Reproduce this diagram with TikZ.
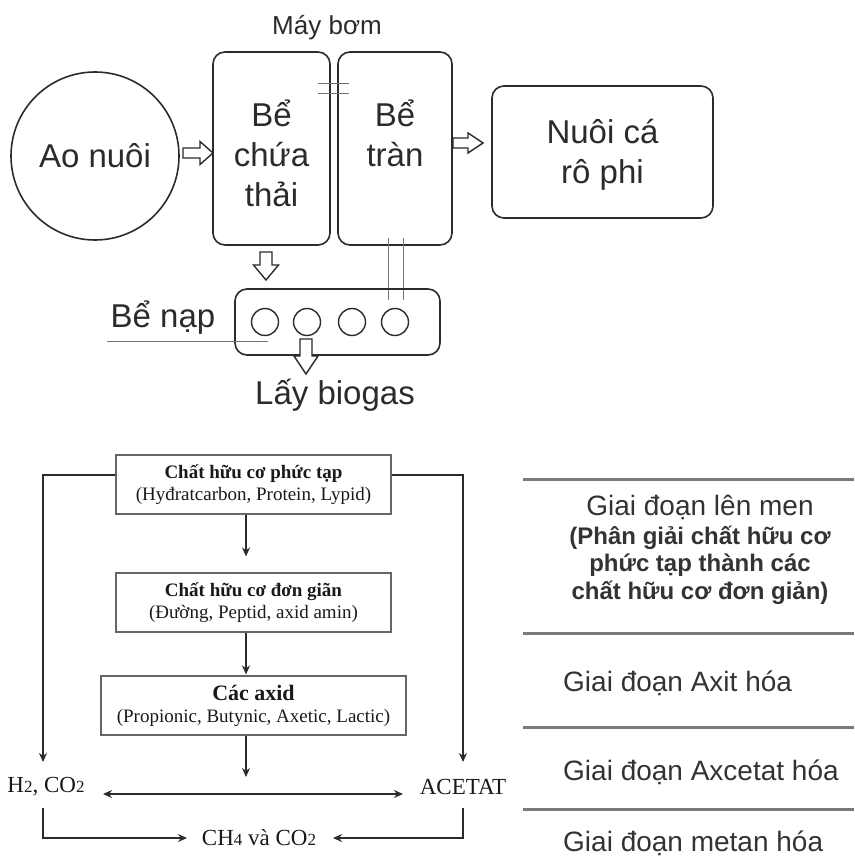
\documentclass[tikz,border=0pt]{standalone}
\usepackage{fontspec}
\setmainfont{Liberation Serif}
\newfontfamily\arialfont{Liberation Sans}
\usetikzlibrary{arrows.meta,calc}
\definecolor{ink}{HTML}{2B2B2B}
\definecolor{rulegray}{HTML}{7A7A7A}
\def\hollowarrow[#1](#2)(#3:#4:#5:#6){\draw[line width=1.4pt, draw=ink, fill=white, shift={(#2)}, #1] (0,-#5) -- (#4,-#5) -- (#4,-#6) -- (#3,0) -- (#4,#6) -- (#4,#5) -- (0,#5) -- cycle;}
\newcommand\lowdigit[1]{{\fontsize{17}{17}\selectfont #1}}
\tikzset{
	tank/.style={draw=ink, line width=1.6pt, rounded corners=12pt},
	toplabel/.style={text=ink, align=center, font=\arialfont\fontsize{33}{40}\selectfont},
	stagebox/.style={draw=black!60, line width=1.2pt, align=center, inner sep=0pt, text=black!90, font=\fontsize{19}{22}\selectfont},
	gas/.style={text=black!90, inner sep=2pt, font=\fontsize{23}{23}\selectfont},
	flow/.style={line width=1.6pt, draw=ink, -{Stealth[length=9pt,width=8pt]}},
	pipe/.style={draw=black!55, line width=0.8pt},
	divider/.style={draw=rulegray, line width=3pt},
	stage/.style={text=black!80, inner sep=0pt, align=center, font=\arialfont\fontsize{28}{30}\selectfont}
}

\begin{document}
\begin{tikzpicture}[x=1pt, y=-1pt]
			%%%%% START %%%%%
			\useasboundingbox (0,0) rectangle (854,858);
			
			% he thong xu ly
			\node[draw=ink, line width=1.6pt, circle, minimum size=168pt, toplabel] (ao) at (95,156) {Ao nuôi};
			\node[tank, minimum width=117pt, minimum height=193pt] (chua) at (271.5,148.5) {};
			\node[tank, minimum width=114pt, minimum height=193pt] (tran) at (395,148.5) {};
			\node[tank, minimum width=221pt, minimum height=132pt] (ca) at (602.5,152) {};
			\node[toplabel] (chualbl) at ([yshift=-4.5pt]chua.center) {Bể\\chứa\\thải};
			\node[toplabel] (tranlbl) at ([yshift=-4.5pt]tran.center) {Bể\\tràn\\\vphantom{thải}};
			\node[toplabel] (calbl) at ([yshift=-2.5pt]ca.center) {Nuôi cá\\rô phi};
			\node[text=ink, font=\arialfont\fontsize{26}{30}\selectfont] (bom) at (327,28) {Máy bơm};
			
			\draw[pipe] (318,83) -- (349,83) (318,93) -- (349,93);
			\draw[pipe] (388,238) -- (388,300) (403,238) -- (403,300);
			
			\node[tank, minimum width=205pt, minimum height=66pt] (nap) at (337.5,322) {};
			\foreach \cx [count=\i] in {265,307,352,395}
				\node[draw=ink, line width=1.4pt, circle, minimum size=27pt, inner sep=0pt] (van\i) at (\cx,322) {};
			\node[toplabel] (naplbl) at (163,318) {Bể nạp};
			\draw[pipe] (107,341) -- (268,341);
			\node[toplabel] (biogas) at (335,395) {Lấy biogas};
			
			\hollowarrow[](183,153)(30:17:5:11.5)
			\hollowarrow[](453,143)(30:15:5:10)
			\hollowarrow[rotate=-90](266,252)(28:13:6:12.5)
			\hollowarrow[rotate=-90](306,339)(35:17:6:12)
			
			% qua trinh phan huy
			\node[stagebox, minimum width=275pt, minimum height=59pt] (phuctap) at (253.5,484.5) {\textbf{Chất hữu cơ phức tạp}\\(Hyđratcarbon, Protein, Lypid)};
			\node[stagebox, minimum width=275pt, minimum height=59pt] (dongian) at (253.5,602.5) {\textbf{Chất hữu cơ đơn giãn}\\(Đường, Peptid, axid amin)};
			\node[stagebox, minimum width=305pt, minimum height=59pt] (axid) at (253.5,705.5) {{\fontsize{22}{24}\selectfont\textbf{Các axid}}\\(Propionic, Butynic, Axetic, Lactic)};
			
			\node[gas] (hidro) at (46,787) {H\lowdigit{2}, CO\lowdigit{2}};
			\node[gas] (acetat) at (463,787) {ACETAT};
			\node[gas] (metan) at (259,838) {CH\lowdigit{4} và CO\lowdigit{2}};
			\coordinate (giua) at (246,794);
			
			\draw[flow, shorten >=16pt] ([xshift=-7.5pt]phuctap.south) -- ([xshift=-7.5pt]dongian.north);
			\draw[flow, shorten >=1pt] ([xshift=-7.5pt]dongian.south) -- ([xshift=-7.5pt]axid.north);
			\draw[flow, shorten >=17pt] ([xshift=-7.5pt]axid.south) -- (giua);
			\draw[flow] ([yshift=9.5pt]phuctap.west) -| ([xshift=-3pt,yshift=25pt]hidro.center);
			\draw[flow] ([yshift=9.5pt]phuctap.east) -| ([yshift=25pt]acetat.center);
			\draw[flow, {Stealth[length=9pt,width=8pt]}-{Stealth[length=9pt,width=8pt]}] ([xshift=57pt,yshift=-7pt]hidro.center) -- ([xshift=-60pt,yshift=-7pt]acetat.center);
			\draw[flow] ([xshift=-3pt,yshift=-21pt]hidro.center) |- ([xshift=-72pt]metan.center);
			\draw[flow] ([yshift=-21pt]acetat.center) |- ([xshift=74pt]metan.center);
			
			% cac giai doan
			\foreach \ly in {479,633,727,809}
				\draw[divider] (523,\ly) -- (854,\ly);
			\node[stage] (lenmen) at (700,507) {Giai đoạn lên men};
			\node[stage, font=\arialfont\bfseries\fontsize{24}{27.5}\selectfont] (phangiai) at (700,565) {(Phân giải chất hữu cơ\\phức tạp thành các\\chất hữu cơ đơn giản)};
			\node[stage, anchor=west] (axithoa) at (563,683) {Giai đoạn Axit hóa};
			\node[stage, anchor=west] (axcetat) at (563,772) {Giai đoạn Axcetat hóa};
			\node[stage, anchor=west] (metanhoa) at (563,843) {Giai đoạn metan hóa};
			
			%%%%% END %%%%%
\end{tikzpicture}
\end{document}
